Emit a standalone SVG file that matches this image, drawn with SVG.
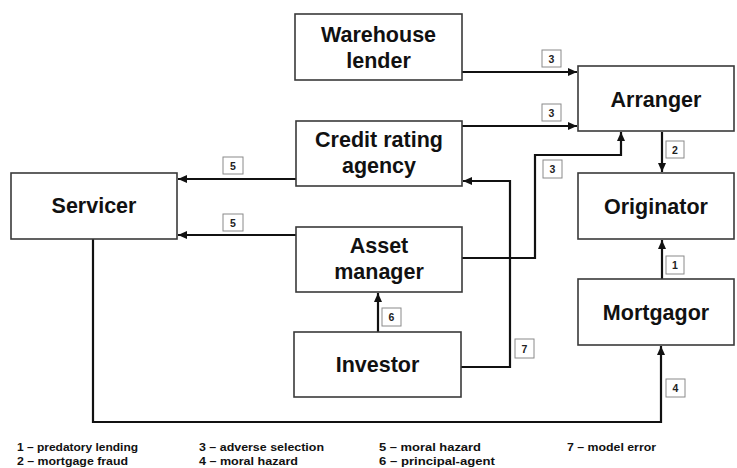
<svg xmlns="http://www.w3.org/2000/svg" width="737" height="468" viewBox="0 0 737 468">
<defs>
<marker id="ah" markerUnits="userSpaceOnUse" markerWidth="10" markerHeight="8" refX="9" refY="4" orient="auto">
<path d="M0,0 L9,4 L0,8 Z" fill="#111"/>
</marker>
<style>
.box{fill:#fff;stroke:#3a3a3a;stroke-width:1.6}
.lbl{font-family:"Liberation Sans",Arial,sans-serif;font-weight:bold;font-size:21.5px;fill:#111;text-anchor:middle}
.conn{fill:none;stroke:#111;stroke-width:2.2;marker-end:url(#ah)}
.tag{fill:#fff;stroke:#8a8a8a;stroke-width:1}
.tagt{font-family:"Liberation Sans",Arial,sans-serif;font-weight:bold;font-size:10.5px;fill:#222;text-anchor:middle}
.leg{font-family:"Liberation Sans",Arial,sans-serif;font-weight:bold;font-size:11px;fill:#111}
</style>
</defs>
<rect width="737" height="468" fill="#fff"/>
<g id="connectors">
<path class="conn" d="M462,72 H577"/>
<path class="conn" d="M462,126 H577"/>
<path class="conn" d="M296,179 H178"/>
<path class="conn" d="M296,235 H178"/>
<path class="conn" d="M462,258 H535 V155 H621 V132"/>
<path class="conn" d="M461,367 H510 V181 H463"/>
<path class="conn" d="M378,332 V293"/>
<path class="conn" d="M662,132 V172"/>
<path class="conn" d="M662,279 V240"/>
<path class="conn" d="M93,239 V422 H661 V346"/>
</g>
<g id="tags">
<rect class="tag" x="542" y="50" width="19" height="17"/><text class="tagt" x="551.5" y="62.5">3</text>
<rect class="tag" x="542" y="104" width="19" height="17"/><text class="tagt" x="551.5" y="116.5">3</text>
<rect class="tag" x="223" y="157" width="20" height="17"/><text class="tagt" x="233" y="169.5">5</text>
<rect class="tag" x="223" y="214" width="20" height="17"/><text class="tagt" x="233" y="226.5">5</text>
<rect class="tag" x="543" y="160" width="19" height="18"/><text class="tagt" x="552.5" y="173">3</text>
<rect class="tag" x="666" y="141" width="18" height="17"/><text class="tagt" x="675" y="153.5">2</text>
<rect class="tag" x="666" y="256" width="18" height="18"/><text class="tagt" x="675" y="269">1</text>
<rect class="tag" x="382" y="308" width="19" height="18"/><text class="tagt" x="391.5" y="321">6</text>
<rect class="tag" x="515" y="339" width="19" height="19"/><text class="tagt" x="524.5" y="352.5">7</text>
<rect class="tag" x="666" y="379" width="19" height="18"/><text class="tagt" x="675.5" y="392">4</text>
</g>
<g id="warehouse">
<rect class="box" x="295" y="14" width="167" height="66"/>
<text class="lbl" x="378.5" y="42">Warehouse</text>
<text class="lbl" x="378.5" y="68">lender</text>
</g>
<g id="arranger">
<rect class="box" x="578" y="66" width="156" height="65"/>
<text class="lbl" x="656" y="107">Arranger</text>
</g>
<g id="credit">
<rect class="box" x="296" y="121" width="166" height="65"/>
<text class="lbl" x="379" y="147">Credit rating</text>
<text class="lbl" x="379" y="173">agency</text>
</g>
<g id="servicer">
<rect class="box" x="11" y="173" width="166" height="66"/>
<text class="lbl" x="94" y="213">Servicer</text>
</g>
<g id="originator">
<rect class="box" x="578" y="173" width="156" height="66"/>
<text class="lbl" x="656" y="214">Originator</text>
</g>
<g id="asset">
<rect class="box" x="296" y="227" width="166" height="65"/>
<text class="lbl" x="379" y="253">Asset</text>
<text class="lbl" x="379" y="279">manager</text>
</g>
<g id="mortgagor">
<rect class="box" x="578" y="279" width="156" height="66"/>
<text class="lbl" x="656" y="320">Mortgagor</text>
</g>
<g id="investor">
<rect class="box" x="294" y="332" width="167" height="65"/>
<text class="lbl" x="377.5" y="372">Investor</text>
</g>
<g id="legend">
<text class="leg" x="17" y="451" textLength="121" lengthAdjust="spacingAndGlyphs">1 – predatory lending</text>
<text class="leg" x="17" y="465" textLength="111" lengthAdjust="spacingAndGlyphs">2 – mortgage fraud</text>
<text class="leg" x="199" y="451" textLength="125" lengthAdjust="spacingAndGlyphs">3 – adverse selection</text>
<text class="leg" x="199" y="465" textLength="99" lengthAdjust="spacingAndGlyphs">4 – moral hazard</text>
<text class="leg" x="379" y="451" textLength="102" lengthAdjust="spacingAndGlyphs">5 – moral hazard</text>
<text class="leg" x="379" y="465" textLength="116" lengthAdjust="spacingAndGlyphs">6 – principal-agent</text>
<text class="leg" x="567" y="451" textLength="89" lengthAdjust="spacingAndGlyphs">7 – model error</text>
</g>
</svg>
